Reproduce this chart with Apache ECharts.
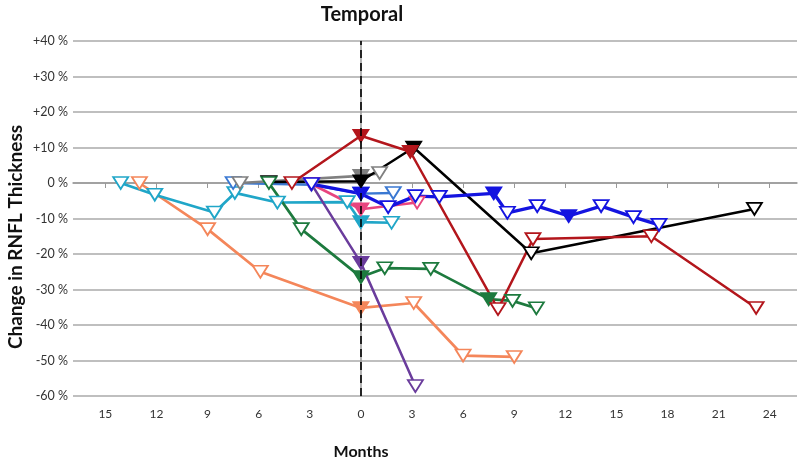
<!DOCTYPE html>
<html><head><meta charset="utf-8">
<script src="https://cdn.jsdelivr.net/npm/echarts@6/dist/echarts.min.js"></script>
<style>html,body{margin:0;padding:0;background:#fff}#c{width:800px;height:460px}</style>
</head><body><div id="c"></div>
<script>
// ---- data ----
const xTickValues = [-15,-12,-9,-6,-3,0,3,6,9,12,15,18,21,24];
const titleText = 'Temporal';
const yAxisTitle = 'Change in RNFL Thickness';
const xAxisTitle = 'Months';

const orangeX = [-13, -9, -5.9, 0, 3.1, 6, 9];
const orangeY = [0, -13, -25, -35.2, -33.8, -48.6, -49];
const orangeFilled = [0,0,0,1,0,0,0];

const cyanX = [-14.1, -12.1, -8.6, -7.4, -4.9, -0.8, 0, 1.8];
const cyanY = [0, -3.3, -8.3, -2.8, -5.5, -5.4, -11, -11.2];
const cyanFilled = [0,0,0,0,0,0,1,0];

const steelX = [-7.5, -2.9, 0, 1.9];
const steelY = [0, -0.5, -3, -2.8];
const steelFilled = [0,0,1,0];

const grayX = [-7.1, 0, 1.1];
const grayY = [0, 2, 2.8];
const grayFilled = [0,1,0];

const greenX = [-5.4, -3.5, 0, 1.4, 4.1, 7.5, 8.9, 10.3];
const greenY = [0, -13, -26.5, -24, -24.2, -32.7, -33.2, -35.3];
const greenFilled = [0,0,1,0,0,1,0,0];

const purpleX = [-2.9, 0, 3.2];
const purpleY = [-0.3, -22.5, -57.2];
const purpleFilled = [0,1,0];

const pinkX = [-2.9, 0, 3.3];
const pinkY = [-0.3, -7.4, -5.5];
const pinkFilled = [0,1,0];

const redX = [-4.05, 0, 2.9, 8.05, 10.1, 17.05, 23.2];
const redY = [0, 13.3, 8.8, -35.5, -15.8, -15, -35.2];
const redFilled = [0,1,1,0,0,0,0];

const blackX = [-5.4, 0, 3.1, 10, 23.1];
const blackY = [0.3, 0.5, 10, -19.8, -7.3];
const blackFilled = [0,1,1,0,0];

const blueX = [-2.9, 0, 1.6, 3.2, 4.6, 7.8, 8.6, 10.35, 12.2, 14.1, 16, 17.5];
const blueY = [-0.3, -3, -6.8, -3.7, -3.9, -2.9, -8.4, -6.5, -9.3, -6.5, -9.6, -11.8];
const blueFilled = [0,1,0,0,0,1,0,0,1,0,0,0];

// ---- build ----
function mk(name, xs, ys, filled, color, width) {
  return {
    name: name, type: 'line',
    data: xs.map((x, i) => ({
      value: [x, ys[i]],
      itemStyle: filled[i] ? { color: color, borderColor: color } : { color: '#fff', borderColor: color }
    })),
    symbol: 'triangle', symbolRotate: 180, symbolSize: [15, 12],
    showAllSymbol: true,
    lineStyle: { color: color, width: width || 2.5 },
    itemStyle: { borderWidth: 1.8, borderColor: color, color: '#fff' },
    emphasis: { disabled: true }
  };
}

const series = [
  mk('orange', orangeX, orangeY, orangeFilled, '#f4865a', 2.7),
  mk('cyan', cyanX, cyanY, cyanFilled, '#20a6c8', 2.7),
  mk('steel', steelX, steelY, steelFilled, '#3a78d2', 2.4),
  mk('gray', grayX, grayY, grayFilled, '#808080', 2.7),
  mk('black', blackX, blackY, blackFilled, '#000000', 2.5),
  mk('green', greenX, greenY, greenFilled, '#1d7a3e', 2.7),
  mk('purple', purpleX, purpleY, purpleFilled, '#6a3c9c', 2.5),
  mk('pink', pinkX, pinkY, pinkFilled, '#e8457f', 2.7),
  mk('red', redX, redY, redFilled, '#b3161c', 2.5),
  mk('blue', blueX, blueY, blueFilled, '#1414e0', 3.3)
];
series[0].markLine = {
  silent: true, symbol: 'none', label: { show: false },
  lineStyle: { color: '#000', type: [8, 5], width: 1.6 },
  data: [{ xAxis: 0 }]
};

const chart = echarts.init(document.getElementById('c'), null, { renderer: 'canvas' });
chart.setOption({
  animation: false,
  backgroundColor: '#fff',
  title: {
    text: titleText, left: 357, top: 0, textAlign: 'center',
    textStyle: { fontFamily: 'Lato', fontWeight: 'bold', fontSize: 20, color: '#111' }
  },
  grid: { left: 73, right: 3, top: 41, bottom: 64 },
  xAxis: {
    type: 'value', min: -16.9, max: 25.6,
    axisLine: { show: true, lineStyle: { color: '#999', width: 1.5 } },
    axisTick: { show: true, customValues: xTickValues, length: 5, lineStyle: { color: '#999' } },
    axisLabel: {
      customValues: xTickValues, margin: 12,
      formatter: v => String(Math.abs(v)),
      fontFamily: 'Lato', fontSize: 12, color: '#333'
    },
    splitLine: { show: false }
  },
  yAxis: {
    type: 'value', min: -60, max: 40, interval: 10,
    axisLine: { show: true, lineStyle: { color: '#999', width: 1.5 } },
    axisTick: { show: false },
    axisLabel: {
      margin: 5,
      formatter: v => (v > 0 ? '+' + v : String(v)) + ' %',
      fontFamily: 'Lato', fontSize: 12.5, color: '#333'
    },
    splitLine: { show: true, lineStyle: { color: '#aaa', width: 1.5 } }
  },
  graphic: [
    { type: 'text', x: 16, y: 237, rotation: Math.PI / 2,
      style: { text: yAxisTitle, fontFamily: 'Lato', fontWeight: 'bold', fontSize: 19, fill: '#111', textAlign: 'center', textVerticalAlign: 'middle' } },
    { type: 'text', x: 361, y: 452,
      style: { text: xAxisTitle, fontFamily: 'Lato', fontWeight: 'bold', fontSize: 16, fill: '#111', textAlign: 'center', textVerticalAlign: 'middle' } }
  ],
  series: series
});
</script></body></html>
